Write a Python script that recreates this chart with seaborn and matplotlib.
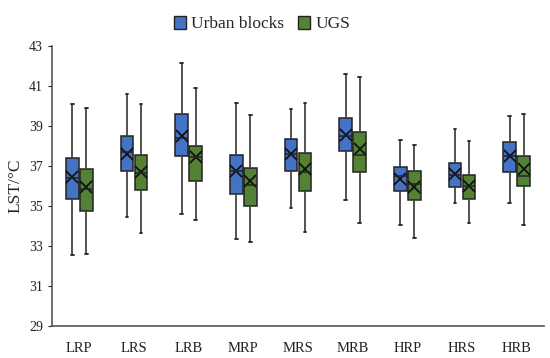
import numpy as np
import pandas as pd
import matplotlib
matplotlib.use("Agg")
import matplotlib.pyplot as plt
import seaborn as sns
from matplotlib.patches import Patch

sns.set_style("white")
plt.rcParams['font.family'] = ['Liberation Serif', 'DejaVu Serif']

# box statistics (deg C)
categories = ["LRP", "LRS", "LRB", "MRP", "MRS", "MRB", "HRP", "HRS", "HRB"]
groups = ["Urban blocks", "UGS"]

urban_low = [32.55, 34.47, 34.62, 33.33, 34.90, 35.30, 34.07, 35.15, 35.13]
urban_q1 = [35.33, 36.77, 37.52, 35.62, 36.77, 37.75, 35.77, 35.93, 36.72]
urban_med = [36.40, 37.68, 38.42, 36.77, 37.60, 38.50, 36.52, 36.55, 37.50]
urban_q3 = [37.38, 38.50, 39.58, 37.53, 38.37, 39.38, 36.97, 37.13, 38.18]
urban_high = [40.10, 40.60, 42.17, 40.17, 39.87, 41.60, 38.30, 38.83, 39.50]
urban_mean = [36.47, 37.58, 38.50, 36.77, 37.58, 38.57, 36.37, 36.60, 37.52]

ugs_low = [32.60, 33.63, 34.28, 33.18, 33.68, 34.13, 33.40, 34.17, 34.07]
ugs_q1 = [34.77, 35.80, 36.27, 35.02, 35.73, 36.68, 35.30, 35.37, 36.00]
ugs_med = [35.85, 36.67, 37.43, 36.07, 36.72, 37.53, 36.08, 36.00, 36.52]
ugs_q3 = [36.85, 37.53, 38.02, 36.88, 37.67, 38.70, 36.75, 36.57, 37.48]
ugs_high = [39.88, 40.10, 40.88, 39.53, 40.13, 41.47, 38.03, 38.23, 39.62]
ugs_mean = [35.97, 36.70, 37.47, 36.27, 36.87, 37.83, 35.97, 36.02, 36.83]

colors = ["#4472C4", "#548235"]

# five values per box -> exact quartiles, whiskers at min/max
rows = []
for g, stats in zip(groups, [(urban_low, urban_q1, urban_med, urban_q3, urban_high),
                             (ugs_low, ugs_q1, ugs_med, ugs_q3, ugs_high)]):
    for i, c in enumerate(categories):
        for s in stats:
            rows.append({"cat": c, "group": g, "LST": s[i]})
df = pd.DataFrame(rows)

means = pd.DataFrame({
    "cat": categories * 2,
    "group": [groups[0]] * 9 + [groups[1]] * 9,
    "LST": urban_mean + ugs_mean,
})

fig, ax = plt.subplots(figsize=(5.5, 3.58), dpi=100)
fig.subplots_adjust(left=0.0945, right=0.989, bottom=0.0894, top=0.8715)

sns.boxplot(data=df, x="cat", y="LST", hue="group", order=categories, hue_order=groups,
            palette=colors, saturation=1, width=0.51, gap=0.1, whis=np.inf,
            linecolor="#222222", linewidth=1.1, legend=False, ax=ax,
            whiskerprops=dict(color="#444444", linewidth=1.3),
            capprops=dict(color="#222222", linewidth=1.3),
            capwidths=0.05)

sns.pointplot(data=means, x="cat", y="LST", hue="group", order=categories, hue_order=groups,
              palette=["#111111", "#111111"], dodge=0.255, errorbar=None,
              marker="x", linestyle="none", markersize=8.5, markeredgewidth=1.3,
              legend=False, ax=ax)

ax.set_xlim(-0.5, 8.5)
ax.set_ylim(29, 43)
ax.set_yticks(range(29, 44, 2))
ax.set_xlabel("")
ax.set_ylabel("LST/°C", fontsize=12.5)
ax.tick_params(axis="y", left=True, direction="out", length=3, width=0.8, labelsize=10, colors="#222222")
ax.tick_params(axis="x", bottom=False, labelsize=10.5, pad=8, colors="#222222")
sns.despine(ax=ax)
for sp in ["left", "bottom"]:
    ax.spines[sp].set_color("#555555")
    ax.spines[sp].set_linewidth(1.2)

handles = [Patch(facecolor=colors[0], edgecolor="#222222", label=groups[0]),
           Patch(facecolor=colors[1], edgecolor="#222222", label=groups[1])]
fig.legend(handles=handles, loc="upper center", bbox_to_anchor=(0.476, 1.0), ncol=2,
           frameon=False, fontsize=12.5, handlelength=0.7, handleheight=0.8,
           handletextpad=0.3, columnspacing=0.8)

fig.savefig("out.png", dpi=100)
